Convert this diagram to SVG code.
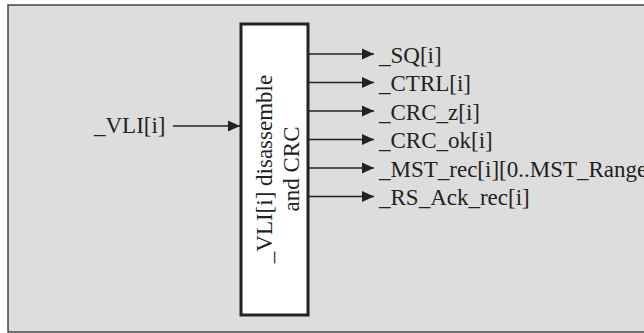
<svg xmlns="http://www.w3.org/2000/svg" width="644" height="333" viewBox="0 0 644 333">
<defs>
<style>
.t{font-family:"Liberation Serif","Times New Roman",serif;font-size:23px;fill:#222}
.c{stroke:#222;stroke-width:1.5;fill:none}
</style>
<marker id="ah" viewBox="0 0 12 12" refX="12" refY="6" markerWidth="12" markerHeight="12" markerUnits="userSpaceOnUse" orient="auto">
<path d="M0,0.5 L12,6 L0,11.5 Z" fill="#222"/>
</marker>
</defs>
<rect x="0" y="0" width="644" height="333" fill="#ffffff"/>
<rect id="frame" x="8" y="5" width="650" height="327" fill="#dddddd" stroke="#444" stroke-width="1.5"/>
<g id="block">
<rect x="241" y="24" width="67" height="291" fill="#ffffff" stroke="#222" stroke-width="3"/>
<text class="t" text-anchor="middle" transform="translate(272,169) rotate(-90)">_VLI[i] disassemble</text>
<text class="t" text-anchor="middle" transform="translate(299,169) rotate(-90)">and CRC</text>
</g>
<g id="connectors">
<line class="c" x1="173" y1="126" x2="240" y2="126" marker-end="url(#ah)"/>
<line class="c" x1="309" y1="54" x2="374" y2="54" marker-end="url(#ah)"/>
<line class="c" x1="309" y1="82.5" x2="374" y2="82.5" marker-end="url(#ah)"/>
<line class="c" x1="309" y1="111" x2="374" y2="111" marker-end="url(#ah)"/>
<line class="c" x1="309" y1="139.5" x2="374" y2="139.5" marker-end="url(#ah)"/>
<line class="c" x1="309" y1="168" x2="374" y2="168" marker-end="url(#ah)"/>
<line class="c" x1="309" y1="196.5" x2="374" y2="196.5" marker-end="url(#ah)"/>
</g>
<g id="in_vli"><text class="t" x="94" y="133">_VLI[i]</text></g>
<g id="out_sq"><text class="t" x="379" y="62.5">_SQ[i]</text></g>
<g id="out_ctrl"><text class="t" x="379" y="91">_CTRL[i]</text></g>
<g id="out_crcz"><text class="t" x="379" y="119.5">_CRC_z[i]</text></g>
<g id="out_crcok"><text class="t" x="379" y="148">_CRC_ok[i]</text></g>
<g id="out_mst"><text class="t" x="379" y="176.5">_MST_rec[i][0..MST_Range</text></g>
<g id="out_rs"><text class="t" x="379" y="205">_RS_Ack_rec[i]</text></g>
</svg>
